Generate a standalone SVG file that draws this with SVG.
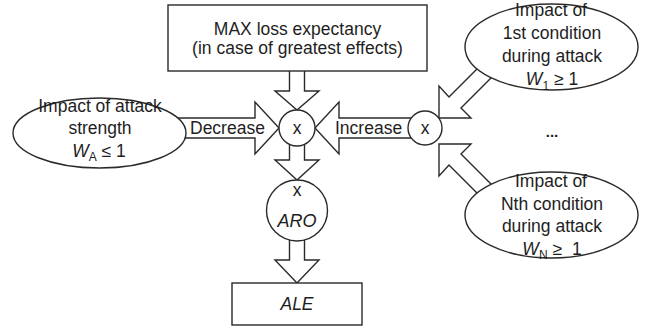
<svg xmlns="http://www.w3.org/2000/svg" width="652" height="329" viewBox="0 0 652 329">
<style>
  .ln { fill: #fff; stroke: #2a2a2a; stroke-width: 1.4; stroke-linejoin: miter; }
  .t { font-family: "Liberation Sans", Arial, sans-serif; font-size: 17.5px; fill: #1e1e1e; text-anchor: middle; }
  .i { font-style: italic; }
  .sub { font-size: 12px; font-style: normal; }
  .lbl { font-family: "Liberation Sans", Arial, sans-serif; font-size: 17.5px; fill: #1e1e1e; }
</style>
<rect width="652" height="329" fill="#fff"/>

<g id="connectors">
  <!-- MAX box to center multiply -->
  <polygon class="ln" points="289.5,60 304.5,60 304.5,91 319,91 297,110 275,91 289.5,91"/>
  <!-- Decrease arrow (left ellipse to center) -->
  <polygon class="ln" points="170,118 255,118 255,102 279,128 255,154 255,138 170,138"/>
  <!-- Increase arrow (right multiply to center) -->
  <polygon class="ln" points="420,118 339,118 339,102 315,128 339,154 339,138 420,138"/>
  <!-- center to ARO -->
  <polygon class="ln" points="289.5,140 304.5,140 304.5,160 319,160 297,180 275,160 289.5,160"/>
  <!-- ARO to ALE -->
  <polygon class="ln" points="289.5,235 304.5,235 304.5,260 319,260 297,283 275,260 289.5,260"/>
  <!-- 1st condition to right multiply -->
  <polygon class="ln" points="439,118 439,86 449,97 499,47 511,58 461,108 471,118"/>
  <!-- Nth condition to right multiply -->
  <polygon class="ln" points="439,144 439,176 449,165 499,215 511,204 461,154 471,144"/>
</g>

<g id="max-loss">
  <rect class="ln" x="168" y="5" width="259" height="66"/>
  <text class="t" x="297.5" y="35">MAX loss expectancy</text>
  <text class="t" x="297.5" y="54">(in case of greatest effects)</text>
</g>

<g id="attack-strength">
  <ellipse class="ln" cx="99.5" cy="133" rx="86.5" ry="35"/>
  <text class="t" x="100" y="112">Impact of attack</text>
  <text class="t" x="100" y="134">strength</text>
  <text class="t" x="99" y="157"><tspan class="i">W</tspan><tspan class="sub" dy="4">A</tspan><tspan dy="-4"> ≤ 1</tspan></text>
</g>

<g id="mult-center">
  <circle class="ln" cx="297" cy="128" r="18"/>
  <text class="t" x="297" y="134">x</text>
</g>

<g id="mult-right">
  <circle class="ln" cx="425" cy="128" r="17"/>
  <text class="t" x="425" y="134">x</text>
</g>

<g id="cond-1">
  <ellipse class="ln" cx="551.5" cy="47" rx="86.5" ry="43"/>
  <text class="t" x="551" y="16">Impact of</text>
  <text class="t" x="552" y="39">1st condition</text>
  <text class="t" x="552" y="62">during attack</text>
  <text class="t" x="552" y="85"><tspan class="i">W</tspan><tspan class="sub" dy="5">1</tspan><tspan dy="-5"> ≥ 1</tspan></text>
</g>

<g id="ellipsis">
  <text class="t" x="552" y="137" style="font-size:15px;font-weight:bold">...</text>
</g>

<g id="cond-n">
  <ellipse class="ln" cx="551.5" cy="215" rx="86.5" ry="43"/>
  <text class="t" x="551" y="187">Impact of</text>
  <text class="t" x="552" y="210">Nth condition</text>
  <text class="t" x="552" y="232">during attack</text>
  <text class="t" x="552" y="255"><tspan class="i">W</tspan><tspan class="sub" dy="4">N</tspan><tspan dy="-4"> ≥ </tspan><tspan dx="5">1</tspan></text>
</g>

<g id="aro">
  <circle class="ln" cx="297" cy="210.5" r="30.5"/>
  <text class="t" x="297" y="196">x</text>
  <text class="t i" x="297" y="227" style="font-size:18px">ARO</text>
</g>

<g id="ale">
  <rect class="ln" x="232" y="283" width="130" height="42"/>
  <text class="t i" x="297" y="310">ALE</text>
</g>

<g id="labels">
  <text class="lbl" x="190" y="134">Decrease</text>
  <text class="lbl" x="335" y="134">Increase</text>
</g>
</svg>
